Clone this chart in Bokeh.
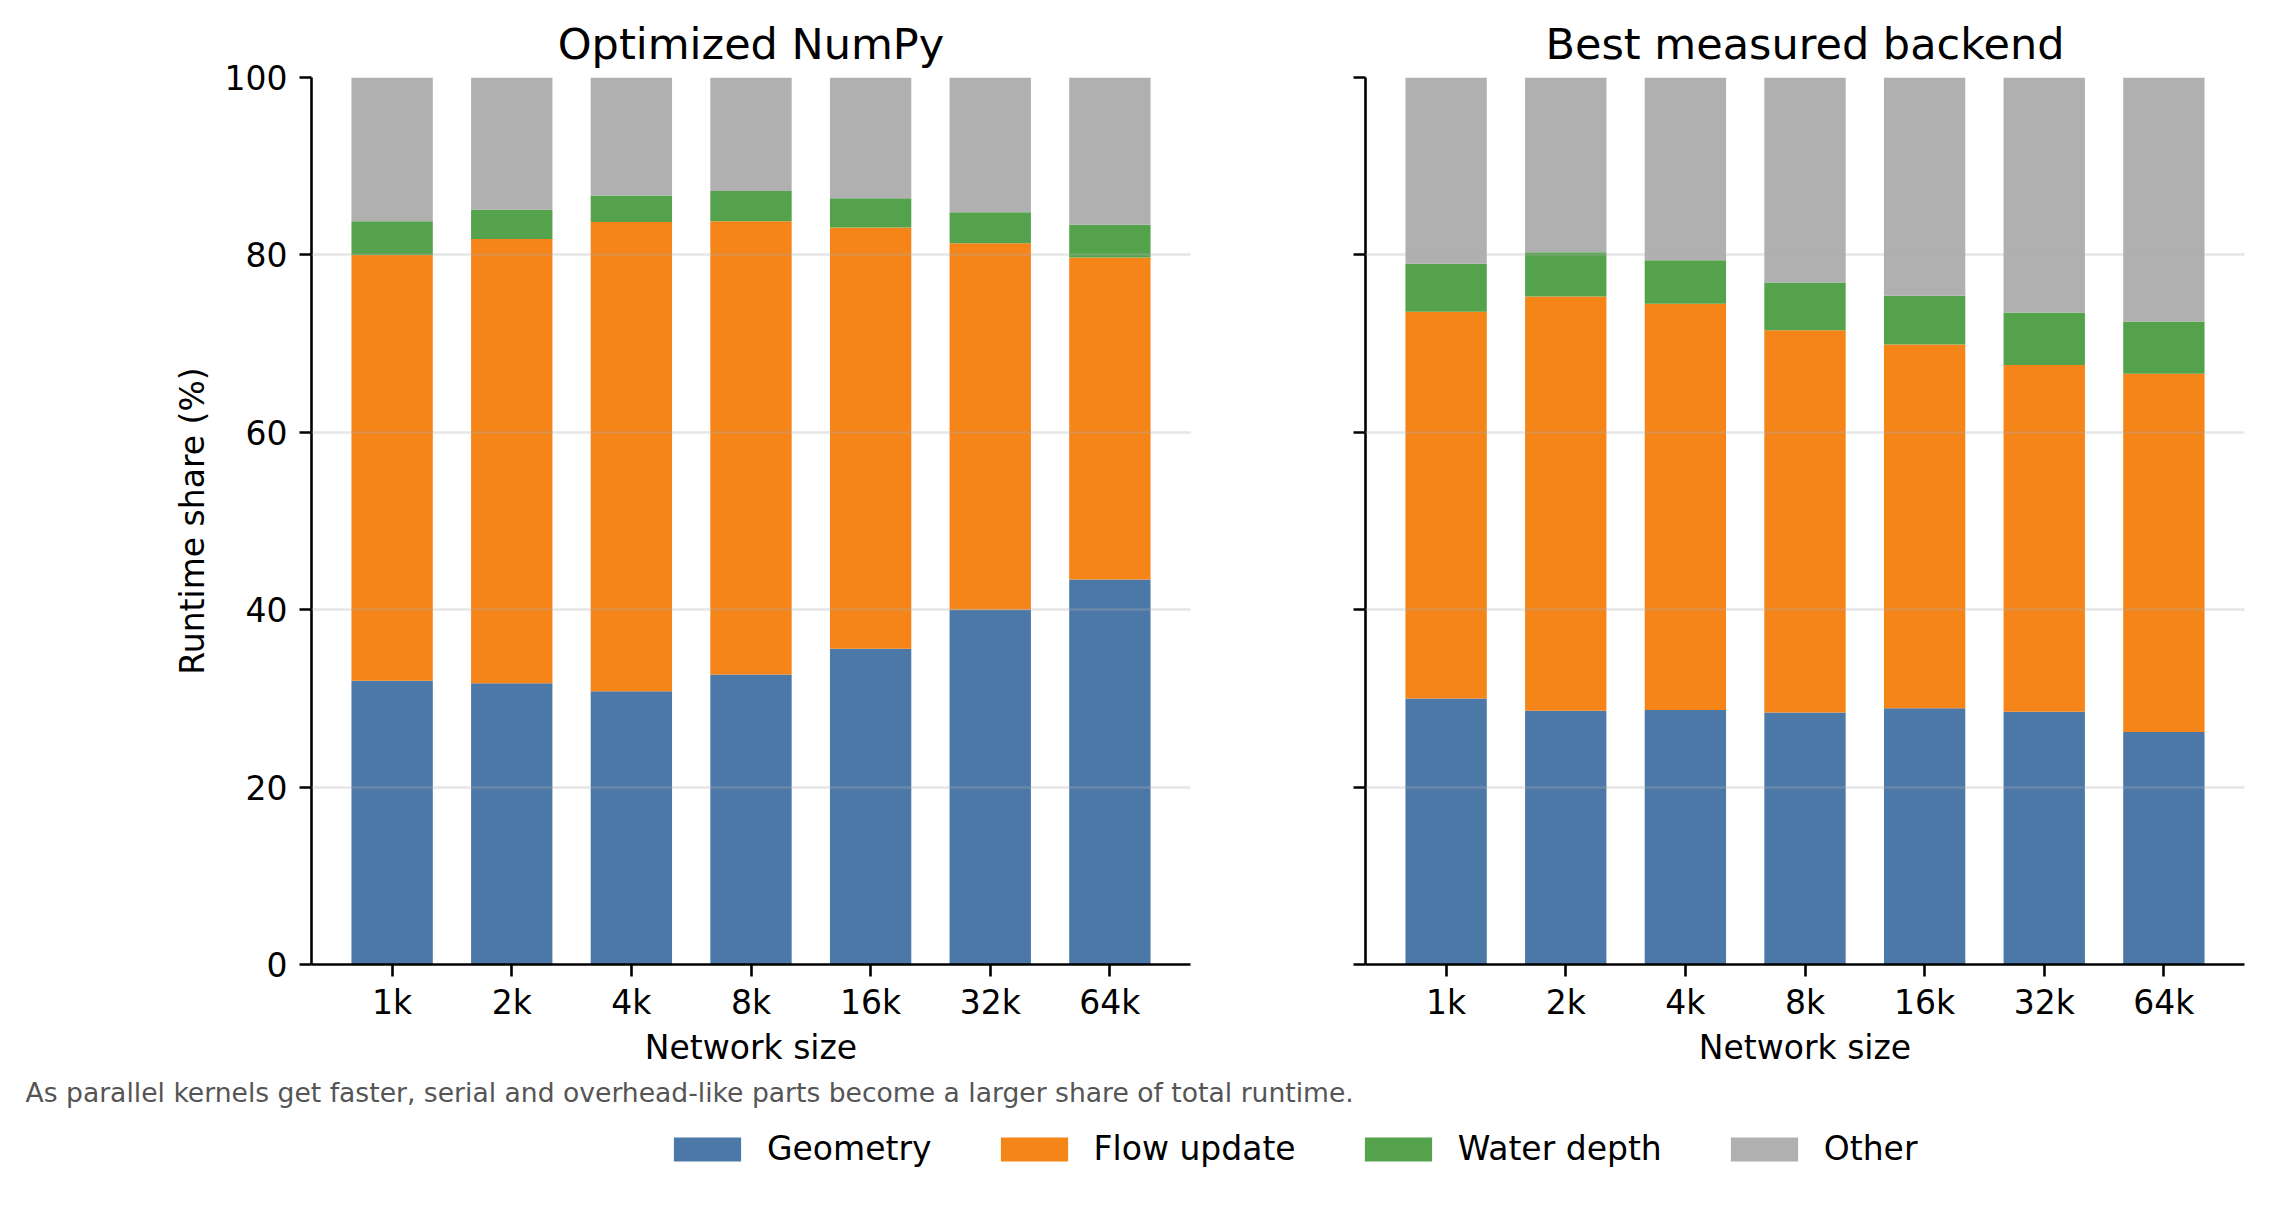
from bokeh.plotting import figure
from bokeh.models import (ColumnDataSource, Range1d, FixedTicker, Legend, LegendItem, Label)
from bokeh.layouts import column, row
from bokeh.embed import file_html
from bokeh.resources import INLINE

# ---- data ----
sizes = ["1k", "2k", "4k", "8k", "16k", "32k", "64k"]
components = ["Geometry", "Flow update", "Water depth", "Other"]
colors = ["#4c78a8", "#f58518", "#54a24b", "#b0b0b0"]

numpy_geometry = [32.0, 31.7, 30.8, 32.7, 35.6, 40.0, 43.4]
numpy_flow = [48.0, 50.1, 52.9, 51.1, 47.5, 41.3, 36.3]
numpy_water = [3.8, 3.3, 3.0, 3.4, 3.3, 3.5, 3.7]
numpy_other = [16.2, 14.9, 13.3, 12.8, 13.6, 15.2, 16.6]

best_geometry = [30.0, 28.6, 28.7, 28.4, 28.9, 28.5, 26.2]
best_flow = [43.6, 46.7, 45.8, 43.1, 41.0, 39.1, 40.4]
best_water = [5.4, 5.0, 4.9, 5.4, 5.5, 5.9, 5.9]
best_other = [21.0, 19.7, 20.6, 23.1, 24.6, 26.5, 27.5]

y_ticks = [0, 20, 40, 60, 80, 100]
footnote = ("As parallel kernels get faster, serial and overhead-like parts "
            "become a larger share of total runtime.")

FONT = "DejaVu Sans"
positions = list(range(len(sizes)))
stack_cols = ["geometry", "flow", "water", "other"]


def make_source(geo, flow, water, other):
    return ColumnDataSource(dict(x=positions, geometry=geo, flow=flow, water=water, other=other))


def make_panel(title, src, width, border_left, border_right, show_ylabels):
    p = figure(width=width, height=1075, output_backend="svg", toolbar_location=None,
               x_range=Range1d(-0.674, 6.674), y_range=Range1d(0, 100),
               min_border_left=border_left, min_border_right=border_right,
               min_border_top=77, min_border_bottom=111)
    p.vbar_stack(stack_cols, x="x", width=0.68, color=colors, line_color=None, source=src)
    p.title.text = title
    p.title.text_font = FONT
    p.title.text_font_size = "43px"
    p.title.text_font_style = "normal"
    p.title.text_color = "black"
    p.title.align = "center"
    p.title.standoff = 18
    p.outline_line_color = None
    p.background_fill_color = "white"
    p.border_fill_color = "white"
    p.xgrid.visible = False
    p.ygrid.ticker = FixedTicker(ticks=y_ticks)
    p.ygrid.grid_line_color = "#b0b0b0"
    p.ygrid.grid_line_alpha = 0.3
    p.ygrid.grid_line_width = 2.6
    p.ygrid.level = "annotation"

    for ax in (p.xaxis[0], p.yaxis[0]):
        ax.axis_line_width = 2.6
        ax.axis_line_color = "black"
        ax.major_tick_line_width = 2.6
        ax.major_tick_line_color = "black"
        ax.major_tick_out = 12
        ax.major_tick_in = 0
        ax.minor_tick_line_color = None
        ax.major_label_text_font = FONT
        ax.major_label_text_font_size = "33px"
        ax.major_label_text_color = "black"
        ax.major_label_standoff = 12
        ax.axis_label_text_font = FONT
        ax.axis_label_text_font_size = "33px"
        ax.axis_label_text_font_style = "normal"
        ax.axis_label_text_color = "black"
    p.xaxis.ticker = FixedTicker(ticks=positions)
    p.xaxis.major_label_overrides = {i: s for i, s in enumerate(sizes)}
    p.xaxis.major_label_standoff = 6
    p.xaxis.axis_label = "Network size"
    p.xaxis.axis_label_standoff = 3
    p.yaxis.ticker = FixedTicker(ticks=y_ticks)
    if show_ylabels:
        p.yaxis.axis_label = "Runtime share (%)"
        p.yaxis.axis_label_standoff = 10
    else:
        p.yaxis.major_label_overrides = {t: "" for t in y_ticks}
    return p


src_numpy = make_source(numpy_geometry, numpy_flow, numpy_water, numpy_other)
src_best = make_source(best_geometry, best_flow, best_water, best_other)

p1 = make_panel("Optimized NumPy", src_numpy, 1240, 311, 50, True)
p2 = make_panel("Best measured backend", src_best, 1029, 125, 25, False)

p3 = figure(width=2269, height=131, output_backend="svg", toolbar_location=None,
            x_range=Range1d(0, 2269), y_range=Range1d(0, 131),
            x_axis_type=None, y_axis_type=None, min_border=0)
p3.outline_line_color = None
p3.background_fill_color = "white"
p3.border_fill_color = "white"
p3.grid.visible = False

# hidden copies of the stacked bars, used only to supply the shared legend's swatches
legend_renderers = p3.vbar_stack(stack_cols, x="x", width=0.68, color=colors,
                                 line_color=None, source=src_numpy, visible=False)
items = [LegendItem(label=name, renderers=[r]) for name, r in zip(components, legend_renderers)]
legend = Legend(items=items, orientation="horizontal", location=(665, 38),
                glyph_width=84, glyph_height=30, label_standoff=18, spacing=60,
                padding=0, margin=0, border_line_color=None, background_fill_alpha=0,
                label_text_font=FONT, label_text_font_size="33px", label_text_color="black")
p3.add_layout(legend, "center")

p3.add_layout(Label(x=25, y=114, text=footnote, text_font=FONT, text_font_size="26.6px",
                    text_color="#555555", text_baseline="middle", text_align="left"))

layout = column(row(p1, p2), p3)
open("out.html", "w").write(file_html(layout, INLINE))
